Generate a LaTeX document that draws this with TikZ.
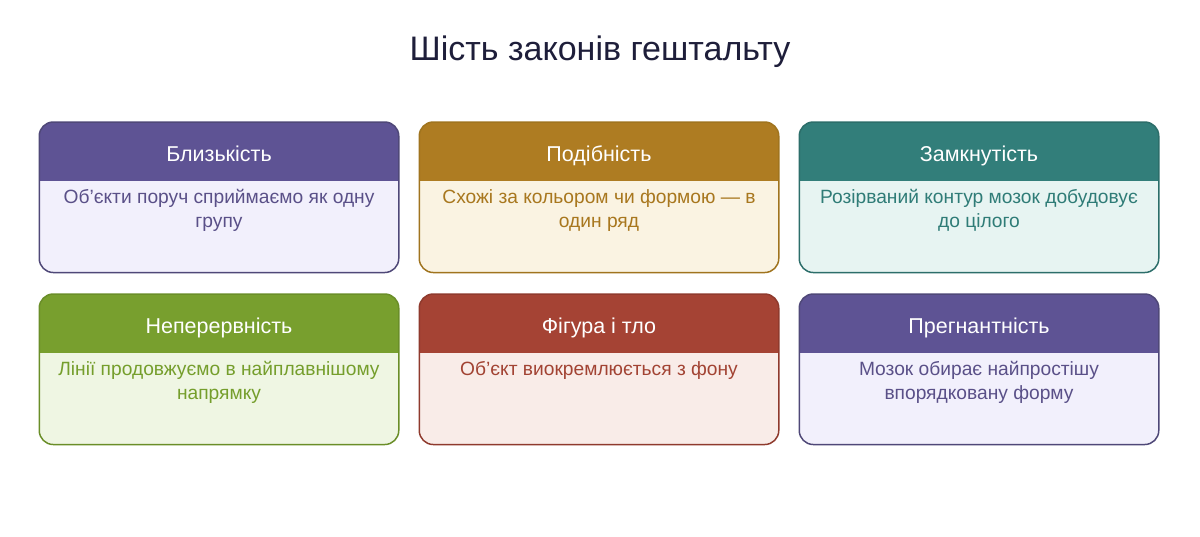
\documentclass[tikz,border=0pt]{standalone}
\usepackage{fontspec}
\setmainfont{Liberation Sans}
\definecolor{titlec}{HTML}{1E1E3A}
\definecolor{purH}{HTML}{5E5394}
\definecolor{purB}{HTML}{F2F0FC}
\definecolor{purT}{HTML}{5A5088}
\definecolor{purD}{HTML}{4F4878}
\definecolor{golH}{HTML}{AE7C22}
\definecolor{golB}{HTML}{FAF3E2}
\definecolor{golT}{HTML}{A8771E}
\definecolor{golD}{HTML}{A0741E}
\definecolor{teaH}{HTML}{327E7A}
\definecolor{teaB}{HTML}{E7F4F2}
\definecolor{teaT}{HTML}{2F7C77}
\definecolor{teaD}{HTML}{2C6E6A}
\definecolor{greH}{HTML}{789F2E}
\definecolor{greB}{HTML}{EFF6E3}
\definecolor{greT}{HTML}{759E2C}
\definecolor{greD}{HTML}{6A8E28}
\definecolor{redH}{HTML}{A54334}
\definecolor{redB}{HTML}{F9ECE8}
\definecolor{redT}{HTML}{A24333}
\definecolor{redD}{HTML}{8F3A2D}
\tikzset{
  cardbox/.style={rectangle, rounded corners=14pt, minimum width=358pt, minimum height=149pt, inner sep=0pt, line width=1.5pt},
  headtxt/.style={text=white, font=\fontsize{21.5}{26}\selectfont, inner sep=0pt, anchor=base},
  bodytxt/.style={font=\fontsize{19.2}{24}\selectfont, align=center, inner sep=0pt, anchor=north},
  titletxt/.style={text=titlec, font=\fontsize{34}{40}\selectfont, inner sep=0pt, anchor=base}
}
\newcommand{\mycard}[6]{%
  \node[cardbox, fill=#4B, anchor=north] (#1) at (#2,#3) {};
  \begin{scope}
    \clip[rounded corners=14pt] (#1.north west) rectangle (#1.south east);
    \fill[#4H] (#1.north west) rectangle ([yshift=-59pt]#1.north east);
  \end{scope}
  \draw[#4D, line width=1.5pt, rounded corners=14pt] (#1.north west) rectangle (#1.south east);
  \node[headtxt] (#1h) at ([yshift=-39pt]#1.north) {#5};
  \node[bodytxt, text=#4T] (#1b) at ([yshift=-67.5pt]#1.north) {#6};
}
\begin{document}
\begin{tikzpicture}[x=1pt,y=-1pt]
\useasboundingbox[fill=white] (0,0) rectangle (1200,536);
\node[titletxt] (title) at (600,60) {Шість законів гештальту};
\mycard{c1}{219}{122}{pur}{Близькість}{Об'єкти поруч сприймаємо як одну\\групу}
\mycard{c2}{599}{122}{gol}{Подібність}{Схожі за кольором чи формою — в\\один ряд}
\mycard{c3}{979}{122}{tea}{Замкнутість}{Розірваний контур мозок добудовує\\до цілого}
\mycard{c4}{219}{294}{gre}{Неперервність}{Лінії продовжуємо в найплавнішому\\напрямку}
\mycard{c5}{599}{294}{red}{Фігура і тло}{Об'єкт виокремлюється з фону}
\mycard{c6}{979}{294}{pur}{Прегнантність}{Мозок обирає найпростішу\\впорядковану форму}
\end{tikzpicture}
\end{document}
